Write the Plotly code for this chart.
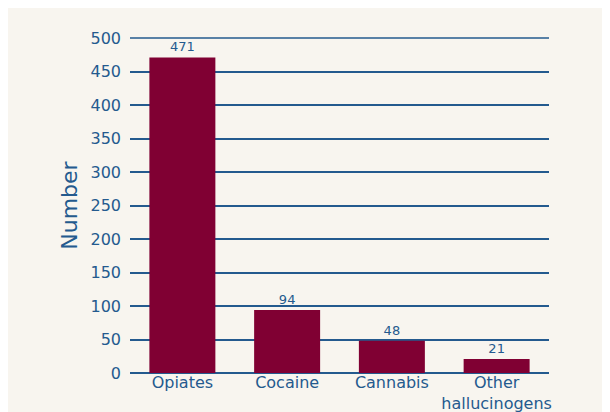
import plotly.graph_objects as go

categories = ["Opiates", "Cocaine", "Cannabis", "Other<br>hallucinogens"]
values = [471, 94, 48, 21]
y_ticks = [0, 50, 100, 150, 200, 250, 300, 350, 400, 450, 500]

blue = "#245a8e"
bar_color = "#800033"
bg = "#f8f5ef"

fig = go.Figure(go.Bar(
    x=categories, y=values, marker_color=bar_color, marker_line_width=0,
    text=[str(v) for v in values], textposition="outside",
    textfont=dict(size=13, color=blue), cliponaxis=False,
))

fig.update_layout(
    width=610, height=412,
    margin=dict(l=122, r=69, t=30, b=47, autoexpand=False),
    paper_bgcolor=bg, plot_bgcolor=bg,
    font=dict(family="DejaVu Sans", color=blue),
    bargap=0.37, showlegend=False,
    shapes=[dict(type="line", xref="paper", yref="paper", x0=0, x1=1, y0=1, y1=1,
                 line=dict(color=blue, width=1.5), layer="below")],
)
fig.update_xaxes(tickfont=dict(size=16, color=blue), showgrid=False, ticks="",
                 showline=False, automargin=False, ticklabelstandoff=-2)
fig.update_yaxes(range=[0, 500], tickvals=y_ticks, tickfont=dict(size=16, color=blue),
                 showgrid=True, gridcolor=blue, gridwidth=1.5,
                 zeroline=True, zerolinecolor=blue, zerolinewidth=2,
                 ticks="", ticklabelstandoff=8, automargin=False,
                 title=dict(text="Number", font=dict(size=22, color=blue), standoff=6))

fig.write_html("out.html")
